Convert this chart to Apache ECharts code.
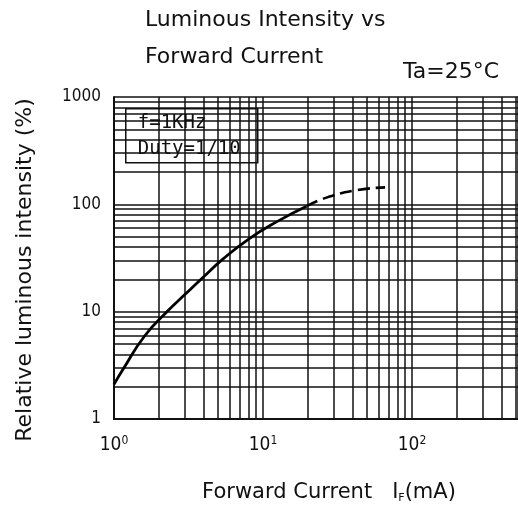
<!DOCTYPE html>
<html>
<head>
<meta charset="utf-8">
<script src="https://cdn.jsdelivr.net/npm/echarts@6/dist/echarts.min.js"></script>
<style>
html,body{margin:0;padding:0;background:#fff;}
#chart{width:518px;height:509px;}
</style>
</head>
<body>
<div id="chart"></div>
<script>
// Forward current (mA) and relative luminous intensity (%)
const currentSolid = [1, 1.15, 1.6, 2.3, 3, 3.9, 5.4, 8.1, 12.4, 19.6];
const intensitySolid = [2.1, 2.9, 5.9, 10.2, 14.5, 20.5, 31, 48, 69, 96];
const currentDashed = [19.6, 25.4, 40.4, 65.9];
const intensityDashed = [96, 113, 134, 144];

// axis ranges and grid lines
const xMin = 1, xMax = 514;
const yMin = 1, yMax = 1000;
const xMinorGrid = [2,3,4,5,6,7,8,9,20,30,40,50,60,70,80,90,200,300,400,500];
const yMinorGrid = [2,3,4,5,6,7,8,9,20,30,40,50,60,70,80,90,200,300,400,500,600,700,800,900];
const xTickLabels = {1: '0', 10: '1', 100: '2'};
const yTickLabels = {1: '1', 10: '10', 100: '100', 1000: '1000'};

const titleLines = ['Luminous Intensity vs', 'Forward Current'];
const conditionText = 'Ta=25°C';
const boxLines = ['f=1KHz', 'Duty=1/10'];

const chart = echarts.init(document.getElementById('chart'), null, {renderer: 'canvas'});

const gridLineStyle = {color: '#111', width: 1.5, type: 'solid'};
const minorLines = xMinorGrid.map(v => ({xAxis: v})).concat(yMinorGrid.map(v => ({yAxis: v})));

function isPow10(v) {
  const l = Math.log10(v);
  return Math.abs(l - Math.round(l)) < 1e-6;
}

const option = {
  animation: false,
  backgroundColor: '#fff',
  title: [
    {
      text: titleLines.join('\n'),
      left: 145, top: 2, padding: 0,
      textStyle: {fontFamily: 'DejaVu Sans', fontSize: 22, fontWeight: 'normal', color: '#111', lineHeight: 37}
    },
    {
      text: conditionText,
      left: 403, top: 61, padding: 0,
      textStyle: {fontFamily: 'DejaVu Sans', fontSize: 22, fontWeight: 'normal', color: '#111', lineHeight: 22}
    }
  ],
  grid: {left: 114, top: 97, right: 0, bottom: 81, containLabel: false},
  xAxis: {
    type: 'log', logBase: 10, min: xMin, max: xMax,
    name: 'Forward Current   I{sub|F}(mA)',
    nameLocation: 'middle', nameGap: 62,
    nameTextStyle: {
      fontFamily: 'DejaVu Sans', fontSize: 21, color: '#111', padding: [0, 0, 0, 26],
      rich: {sub: {fontFamily: 'DejaVu Sans', fontSize: 11, color: '#111', verticalAlign: 'bottom', padding: [12, 0, 0, 0]}}
    },
    axisLine: {show: true, lineStyle: {color: '#111', width: 2}},
    axisTick: {show: false},
    splitLine: {show: true, lineStyle: gridLineStyle},
    minorTick: {show: false},
    axisLabel: {
      show: true, margin: 16, showMaxLabel: false,
      formatter: function (v) {
        if (!isPow10(v)) return '';
        const e = xTickLabels[Math.round(v)];
        return e === undefined ? '' : '{b|10}{s|' + e + '}';
      },
      rich: {
        b: {fontFamily: 'Liberation Sans Narrow, DejaVu Sans Condensed, sans-serif', fontSize: 19, color: '#111', lineHeight: 20, verticalAlign: 'bottom'},
        s: {fontFamily: 'Liberation Sans Narrow, DejaVu Sans Condensed, sans-serif', fontSize: 12, color: '#111', lineHeight: 12, verticalAlign: 'top', padding: [0, 0, 10, 0]}
      }
    }
  },
  yAxis: {
    type: 'log', logBase: 10, min: yMin, max: yMax,
    name: 'Relative luminous intensity (%)',
    nameLocation: 'middle', nameGap: 78, nameRotate: 90,
    nameTextStyle: {fontFamily: 'DejaVu Sans', fontSize: 22, color: '#111', padding: [0, 24, 0, 0]},
    axisLine: {show: true, lineStyle: {color: '#111', width: 2}},
    axisTick: {show: false},
    splitLine: {show: true, lineStyle: gridLineStyle},
    axisLabel: {
      margin: 13,
      fontFamily: 'Liberation Sans Narrow, DejaVu Sans Condensed, sans-serif', fontSize: 17, color: '#111',
      formatter: function (v) {
        if (!isPow10(v)) return '';
        const t = yTickLabels[Math.round(v)];
        return t === undefined ? '' : t;
      }
    }
  },
  series: [
    {
      type: 'line', name: 'solid',
      data: currentSolid.map((x, i) => [x, intensitySolid[i]]),
      smooth: true, symbol: 'none',
      lineStyle: {color: '#000', width: 2.8},
      z: 5,
      markLine: {
        silent: true, symbol: ['none', 'none'], animation: false,
        label: {show: false},
        lineStyle: gridLineStyle,
        emphasis: {disabled: true},
        data: minorLines,
        z: 1
      }
    },
    {
      type: 'line', name: 'dashed',
      data: currentDashed.map((x, i) => [x, intensityDashed[i]]),
      smooth: true, symbol: 'none',
      lineStyle: {color: '#000', width: 2.6, type: [12, 6]},
      z: 5
    }
  ],
  graphic: [
    {
      type: 'group', left: 125, top: 108, z: 100,
      children: [
        {type: 'rect', shape: {x: 0, y: 0, width: 132, height: 54}, style: {fill: '#fff', stroke: '#111', lineWidth: 1.5}},
        {type: 'text', x: 12, y: 14, style: {text: boxLines[0], font: '19px "DejaVu Sans Mono", monospace', fill: '#111', verticalAlign: 'middle'}},
        {type: 'text', x: 12, y: 40, style: {text: boxLines[1], font: '19px "DejaVu Sans Mono", monospace', fill: '#111', verticalAlign: 'middle'}}
      ]
    }
  ]
};

chart.setOption(option);
</script>
</body>
</html>
